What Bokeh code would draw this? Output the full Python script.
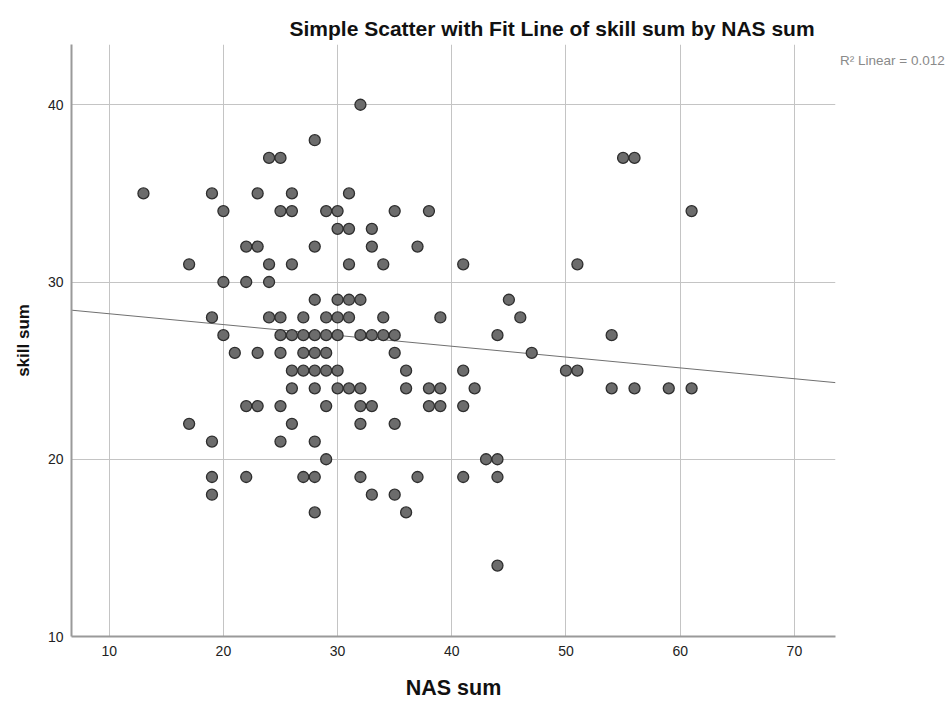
from bokeh.plotting import figure
from bokeh.models import Range1d, FixedTicker, Legend, LegendItem
from bokeh.embed import file_html
from bokeh.resources import INLINE

# ---- data (one entry per visible point) ----
nas_sum = [
    32,
    28,
    24, 25, 55, 56,
    13, 19, 23, 26, 31,
    20, 25, 26, 29, 30, 35, 38, 61,
    30, 31, 33,
    22, 23, 28, 33, 37,
    17, 24, 26, 31, 34, 41, 51,
    20, 22, 24,
    28, 30, 31, 32, 45,
    19, 24, 25, 27, 29, 30, 31, 34, 39, 46,
    20, 25, 26, 27, 28, 29, 30, 32, 33, 34, 35, 44, 54,
    21, 23, 25, 27, 28, 29, 35, 47,
    26, 27, 28, 29, 30, 36, 41, 50, 51,
    26, 28, 30, 31, 32, 36, 38, 39, 42, 54, 56, 59, 61,
    22, 23, 25, 29, 32, 33, 38, 39, 41,
    17, 26, 32, 35,
    19, 25, 28,
    29, 43, 44,
    19, 22, 27, 28, 32, 37, 41, 44,
    19, 33, 35,
    28, 36,
    44,
]
skill_sum = [
    40,
    38,
    37, 37, 37, 37,
    35, 35, 35, 35, 35,
    34, 34, 34, 34, 34, 34, 34, 34,
    33, 33, 33,
    32, 32, 32, 32, 32,
    31, 31, 31, 31, 31, 31, 31,
    30, 30, 30,
    29, 29, 29, 29, 29,
    28, 28, 28, 28, 28, 28, 28, 28, 28, 28,
    27, 27, 27, 27, 27, 27, 27, 27, 27, 27, 27, 27, 27,
    26, 26, 26, 26, 26, 26, 26, 26,
    25, 25, 25, 25, 25, 25, 25, 25, 25,
    24, 24, 24, 24, 24, 24, 24, 24, 24, 24, 24, 24, 24,
    23, 23, 23, 23, 23, 23, 23, 23, 23,
    22, 22, 22, 22,
    21, 21, 21,
    20, 20, 20,
    19, 19, 19, 19, 19, 19, 19, 19,
    18, 18, 18,
    17, 17,
    14,
]

x_ticks = [10, 20, 30, 40, 50, 60, 70]
y_ticks = [10, 20, 30, 40]

# linear fit line
fit_intercept = 28.82
fit_slope = -0.0611
r2_text = "R\u00b2 Linear = 0.012"

title_text = "Simple Scatter with Fit Line of skill sum by NAS sum"
x_label = "NAS sum"
y_label = "skill sum"

FONT = "Liberation Sans"

X_MIN, X_MAX = 6.7, 73.6
Y_MIN, Y_MAX = 10, 43.4

p = figure(
    frame_width=764, frame_height=592,
    x_range=Range1d(X_MIN, X_MAX), y_range=Range1d(Y_MIN, Y_MAX),
    output_backend="svg", toolbar_location=None,
    min_border_left=71, min_border_right=0,
    min_border_top=44, min_border_bottom=60,
    background_fill_color="white", border_fill_color="white",
)
p.outline_line_color = None

# title
p.title.text = title_text
p.title.align = "left"
p.title.offset = 218
p.title.text_font = FONT
p.title.text_font_size = "21px"
p.title.text_font_style = "bold"
p.title.text_color = "#111111"
p.title.standoff = 10

# grids
p.xgrid.ticker = FixedTicker(ticks=x_ticks)
p.ygrid.ticker = FixedTicker(ticks=y_ticks)
for g in (p.xgrid, p.ygrid):
    g.grid_line_color = "#c4c4c4"
    g.grid_line_width = 1

# axes
p.xaxis.ticker = FixedTicker(ticks=x_ticks)
p.yaxis.ticker = FixedTicker(ticks=y_ticks)
for ax in (p.xaxis, p.yaxis):
    ax.axis_line_color = "#9a9a9a"
    ax.axis_line_width = 2
    ax.major_tick_line_color = None
    ax.minor_tick_line_color = None
    ax.major_tick_out = 0
    ax.major_tick_in = 0
    ax.major_label_text_font = FONT
    ax.major_label_text_font_size = "14px"
    ax.major_label_text_color = "#222222"
    ax.axis_label_text_font = FONT
    ax.axis_label_text_font_style = "bold"
    ax.axis_label_text_color = "#111111"

p.xaxis.major_label_standoff = 9
p.xaxis.axis_label = x_label
p.xaxis.axis_label_text_font_size = "21.5px"
p.xaxis.axis_label_standoff = 17

p.yaxis.major_label_standoff = 8
p.yaxis.axis_label = y_label
p.yaxis.axis_label_text_font_size = "17px"
p.yaxis.axis_label_standoff = 12

# fit line across the full x range
fit_x = [X_MIN, X_MAX]
fit_y = [fit_intercept + fit_slope * xv for xv in fit_x]
fit_r = p.line(fit_x, fit_y, line_color="#707070", line_width=1)

# points
p.scatter(nas_sum, skill_sum, size=11, fill_color="#6c6c6c",
          line_color="#2e2e2e", line_width=1.3)

# R^2 annotation as a text-only legend in the right panel
legend = Legend(
    items=[LegendItem(label=r2_text, renderers=[fit_r])],
    location="top_left",
    margin=0, padding=0, spacing=0,
    glyph_width=0, glyph_height=32, label_height=32, label_standoff=5,
    label_text_font=FONT, label_text_font_size="13.5px",
    label_text_color="#8a8a8a",
    border_line_color=None, background_fill_alpha=0,
)
p.add_layout(legend, "right")

open("out.html", "w").write(file_html(p, INLINE))
